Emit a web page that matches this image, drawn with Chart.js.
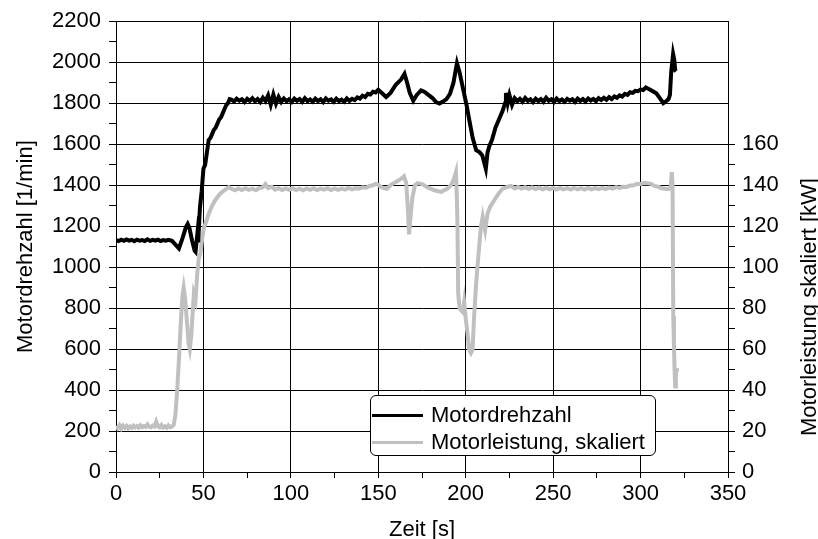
<!DOCTYPE html>
<html>
<head>
<meta charset="utf-8">
<script src="https://cdn.jsdelivr.net/npm/chart.js@4"></script>
<style>
    body { margin: 0; background: #fff; }
    #wrap { position: relative; width: 818px; height: 539px; font-family: 'Liberation Sans', Arial, sans-serif; }
    #legendBox {
        position: absolute; left: 370px; top: 395px; width: 286px; height: 61px;
        border: 1px solid #000; border-radius: 6px; background: #fff; box-sizing: border-box;
    }
    .legend-row { position: absolute; left: 1px; height: 26px; display: flex; align-items: center; font-size: 22px; color: #000; white-space: nowrap; }
    .legend-line { width: 51px; height: 3px; margin-right: 8px; }
    #rightTitle {
        position: absolute; left: 809px; top: 307px; transform: translate(-50%, -50%) rotate(-90deg);
        white-space: nowrap; font-size: 22px; color: #000;
    }
</style>
</head>
<body>
<div id="wrap">
    <canvas id="chart" width="818" height="539"></canvas>
    <div id="legendBox">
        <div class="legend-row" style="top: 6px;"><span class="legend-line" style="background:#000;"></span>Motordrehzahl</div>
        <div class="legend-row" style="top: 33px;"><span class="legend-line" style="background:#c0c0c0;"></span>Motorleistung, skaliert</div>
    </div>
    <div id="rightTitle">Motorleistung skaliert [kW]</div>
</div>
<script>
// Motordrehzahl [1/min] über Zeit [s]
const timeRpm = [0, 1.5, 3, 4.5, 6, 7.5, 9, 10.5, 12, 13.5, 15, 16.5, 18, 19.5, 21, 22.5, 24, 25.5, 27, 28.5, 30, 32,
    34, 36, 38, 40, 41, 42, 43.5, 45, 45.5, 46.5, 47, 48, 49, 50,
    51, 52, 53, 54, 55, 56, 57, 58, 59, 60, 61, 62, 63, 64, 65,
    66, 67.5, 69, 70.5, 72, 73.5, 75, 76.5, 78, 79.5, 81, 82.5, 84, 85.5, 87, 88.5, 90, 91.5, 93, 94.5, 96, 97.5, 99, 100.5,
    102, 103.5, 105, 106.5, 108, 109.5, 111, 112.5, 114, 115.5, 117, 118.5, 120, 121.5, 123, 124.5, 126, 127.5, 129, 130.5,
    132, 133.5, 135, 136.5, 138, 139.5, 141, 142.5, 144, 145.5, 147, 148.5, 150, 152, 154.5, 157, 160,
    163, 165, 166.5, 168, 170, 172, 174.5, 176.5, 179, 181, 183, 185, 187, 189, 191, 193, 195, 196.5, 198.5, 200.5, 202, 204,
    206, 208, 209.5, 211.5, 212.5, 213.5, 215, 217, 219, 221, 222.5, 223, 224, 225,
    226.5, 228, 229.5, 231, 232.5, 234, 235.5, 237, 238.5, 240, 241.5, 243, 244.5, 246, 247.5, 249, 250.5, 252, 253.5, 255,
    256.5, 258, 259.5, 261, 262.5, 264, 265.5, 267, 268.5, 270, 271.5, 273, 274.5, 276, 277.5, 279, 280.5, 282, 283.5, 285,
    286.5, 288, 289.5, 291, 292.5, 294, 295.5, 297, 298.5, 300, 301.5, 303, 305, 307, 309, 311,
    313, 314.5, 316, 316.8, 317.5, 318.6, 319.3, 319.8, 320.3];
const rpmValues = [1132, 1127, 1134, 1128, 1135, 1129, 1133, 1126, 1134, 1129, 1132, 1127, 1135, 1128, 1133, 1129, 1134, 1127, 1132, 1129, 1133, 1128,
    1110, 1091, 1140, 1195, 1210, 1190, 1130, 1080, 1075, 1160, 1120, 1290, 1370, 1480,
    1500, 1560, 1620, 1630, 1650, 1670, 1680, 1700, 1720, 1730, 1750, 1770, 1790, 1800, 1820,
    1818, 1808, 1822, 1812, 1819, 1806, 1821, 1811, 1824, 1809, 1820, 1805, 1826, 1810, 1838, 1792, 1842, 1798, 1830, 1806, 1823, 1810, 1819, 1806,
    1822, 1812, 1820, 1806, 1824, 1810, 1818, 1807, 1822, 1811, 1819, 1805, 1823, 1812, 1818, 1806, 1822, 1810, 1817, 1807,
    1823, 1811, 1821, 1815, 1828, 1822, 1836, 1830, 1846, 1842, 1856, 1852, 1865, 1850, 1830, 1850, 1890,
    1915, 1943, 1900, 1850, 1812, 1840, 1862, 1855, 1838, 1825, 1805, 1798, 1808, 1820, 1845, 1900, 1995, 1950, 1870, 1790, 1720, 1630,
    1570, 1560, 1545, 1480, 1560, 1590, 1620, 1680, 1720, 1760, 1800, 1850, 1800, 1840,
    1792, 1824, 1810, 1821, 1807, 1825, 1811, 1819, 1805, 1822, 1810, 1820, 1807, 1826, 1812, 1819, 1806, 1823, 1810, 1818,
    1807, 1821, 1812, 1819, 1806, 1822, 1811, 1820, 1808, 1823, 1813, 1821, 1810, 1824, 1815, 1826, 1816, 1829, 1820, 1833,
    1826, 1838, 1832, 1845, 1840, 1853, 1850, 1860, 1858, 1866, 1864, 1877, 1868, 1858, 1848, 1825,
    1800, 1808, 1820, 1840, 1950, 2040, 2010, 1960, 1955];

// Motorleistung skaliert [kW] über Zeit [s]
const timePower = [0, 1, 2, 3, 4, 5, 6, 7, 8, 9, 10, 11, 12, 13, 14, 15, 16, 17, 18, 19, 20, 21, 22, 23, 24, 25, 26, 27, 28,
    29, 30, 31, 32, 33, 34, 35, 36, 37, 38, 38.7,
    39.5, 40.5, 41.5, 42.2, 43, 44, 44.5, 45.5, 46.4, 47.3, 48.3, 49, 50.2, 51.5, 53, 55, 57, 59.7, 62, 64.5,
    66, 68, 70, 72, 74, 76, 78, 80, 82, 84, 85.5, 87, 89, 91, 93, 95, 97, 99, 101, 103, 105, 107, 109, 111, 113, 115, 117,
    119, 121, 123, 125, 127, 129, 131, 133, 135, 137, 139, 141, 143, 145, 147, 148.5, 150, 151.5, 153, 155, 157, 160, 163, 164.7, 166,
    166.8, 167.6, 168.5, 169.5, 171, 172.5, 175, 178, 182, 186, 189.6, 191.5, 193, 194.4, 194.9, 195.3, 195.7, 196.5, 197.2,
    198.3, 199.1, 200.1, 201, 202, 203, 203.9, 204.8, 205.8, 206.7, 207.7, 208.7, 209.7, 210.4, 211.1, 212.5, 214, 216.3,
    218.5, 221.1, 224, 226, 228, 230, 232, 234, 236, 238, 240, 242, 244, 246, 248, 250, 252, 254, 256, 258, 260, 262, 264,
    266, 268, 270, 272, 274, 276, 278, 280, 282, 284, 286, 288, 290, 292, 294, 296, 298, 300, 302, 304, 306,
    308, 310, 312, 314, 316, 317.2, 317.9, 318.3, 318.7, 319.1, 319.4, 319.8, 320.2, 320.5, 320.8];
const powerValues = [22.5, 21.4, 22.8, 21.2, 22.6, 21.6, 22.5, 21.3, 22.2, 21.5, 22.6, 21.8, 22.4, 21.7, 22.8, 21.9, 22.4, 22.0, 23.2, 22.1,
    21.8, 22.6, 22.2, 24.6, 22.4, 21.8, 22.9, 21.7, 22.3, 21.6, 22.7, 21.9, 22.2, 23.0, 28, 40, 55, 72, 86, 90,
    85, 74, 63, 60, 66, 80, 87, 84, 96, 104, 107, 112, 119, 122, 126, 130, 133, 135.9, 137.5, 139,
    138.2, 137.5, 138.4, 137.6, 138.5, 137.7, 138.3, 137.5, 138.6, 139.0, 140.5, 138.6, 139.2, 137.8, 138.5, 137.6, 138.4, 137.7, 138.5, 137.6, 138.3, 137.5, 138.4, 137.7, 138.5, 137.6, 138.3,
    137.8, 138.5, 137.6, 138.4, 137.7, 138.3, 137.8, 138.6, 137.9, 138.5, 138.3, 138.9, 138.7, 139.6, 139.9, 140.6, 140.2, 139.2, 138.6, 138.2, 140, 141.5, 143, 144.3, 141,
    130, 116, 125, 134, 140, 141, 140.5, 139, 137.5, 136.7, 138.3, 140, 142.4, 146.4, 135, 120, 87.2, 80, 79,
    78, 83, 74.2, 68, 59.6, 58, 59.6, 75.8, 90, 100, 110, 119.6, 124.5, 121, 118, 126.2, 129.5, 132.6,
    135.5, 138.3, 139.2, 139.6, 138.4, 139.1, 138.3, 139.0, 138.2, 138.9, 138.1, 138.8, 138.0, 138.7, 137.9, 138.6, 137.8, 138.6, 137.9, 138.5, 137.8, 138.6, 137.9,
    138.5, 137.8, 138.6, 137.9, 138.5, 138.0, 138.7, 138.1, 138.8, 138.3, 139.0, 138.6, 139.2, 139.1, 139.8, 139.9, 140.6, 140.5, 141.0, 140.9, 140.6,
    139.6, 139.2, 138.5, 138.2, 138, 139, 146.4, 140, 76, 62, 51, 41.7, 46, 50, 50.6];

const FONT = "'Liberation Sans', Arial, sans-serif";

const ctx = document.getElementById('chart').getContext('2d');
new Chart(ctx, {
    type: 'line',
    data: {
        datasets: [{
            label: 'Motordrehzahl',
            data: timeRpm.map((t, i) => ({ x: t, y: rpmValues[i] })),
            borderColor: '#000',
            borderWidth: 4,
            pointRadius: 0,
            tension: 0,
            yAxisID: 'y',
            order: 0
        }, {
            label: 'Motorleistung, skaliert',
            data: timePower.map((t, i) => ({ x: t, y: powerValues[i] })),
            borderColor: '#c0c0c0',
            borderWidth: 4,
            pointRadius: 0,
            tension: 0,
            yAxisID: 'y2',
            order: 1
        }]
    },
    options: {
        responsive: false,
        animation: false,
        layout: { padding: { top: 21, left: 0, right: 0, bottom: 0 } },
        plugins: { legend: { display: false }, tooltip: { enabled: false } },
        scales: {
            x: {
                type: 'linear',
                min: 0, max: 350,
                afterFit: scale => { scale.height = 67; },
                ticks: {
                    stepSize: 25, autoSkip: false, maxRotation: 0, padding: 3,
                    color: '#000', font: { family: FONT, size: 22 },
                    callback: v => (v % 50 === 0 ? v : '')
                },
                grid: {
                    color: c => (c.tick && c.tick.value % 50 === 0 ? '#000' : 'transparent'),
                    tickColor: '#000', tickLength: 6, lineWidth: 1
                },
                border: { color: '#000', width: 1 },
                title: { display: true, text: 'Zeit [s]', color: '#000', font: { family: FONT, size: 22 }, padding: { top: 0, bottom: -4 } }
            },
            y: {
                position: 'left',
                min: 0, max: 2200,
                afterFit: scale => { scale.width = 116; },
                ticks: {
                    stepSize: 100, autoSkip: false, padding: 8,
                    color: '#000', font: { family: FONT, size: 22 },
                    callback: v => (v % 200 === 0 ? v : '')
                },
                grid: {
                    color: c => (c.tick && c.tick.value % 200 === 0 ? '#000' : 'transparent'),
                    tickColor: '#000', tickLength: 7, lineWidth: 1
                },
                border: { color: '#000', width: 1 },
                title: { display: true, text: 'Motordrehzahl [1/min]', color: '#000', font: { family: FONT, size: 22 }, padding: { top: 13 } }
            },
            y2: {
                position: 'right',
                min: 0, max: 220,
                afterFit: scale => { scale.width = 90; },
                ticks: {
                    stepSize: 10, autoSkip: false, padding: 7,
                    color: '#000', font: { family: FONT, size: 22 },
                    callback: v => (v % 20 === 0 && v <= 160 ? v : '')
                },
                grid: {
                    drawOnChartArea: false,
                    tickColor: c => (c.tick && c.tick.value <= 160 ? '#000' : 'transparent'),
                    tickLength: 7
                },
                border: { color: '#000', width: 1 }
            }
        }
    }
});
</script>
</body>
</html>
